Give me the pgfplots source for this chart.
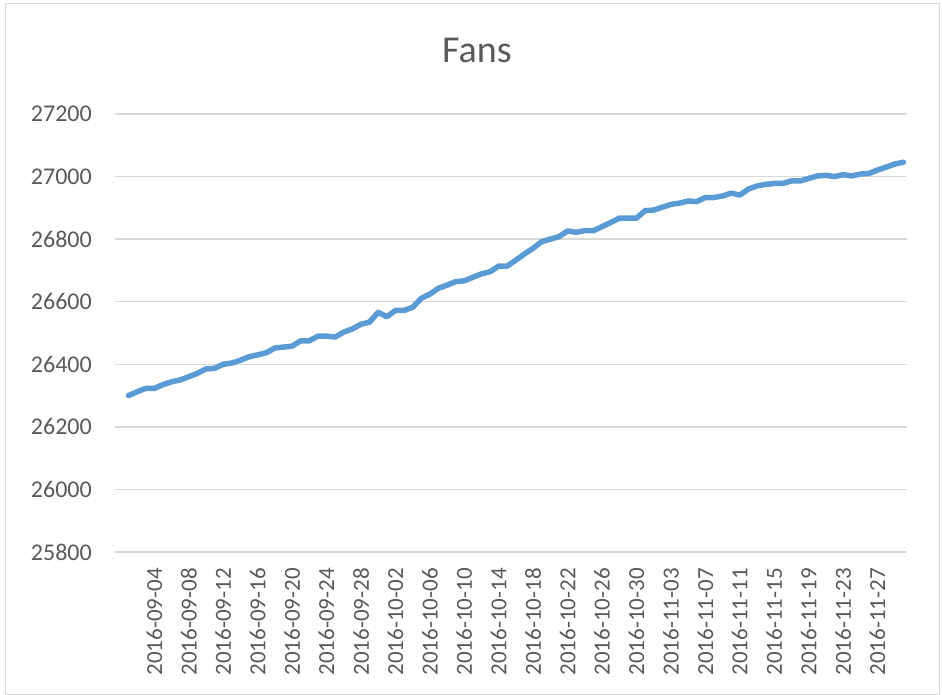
\documentclass[border=0pt]{standalone}
\usepackage{pgfplots}
\pgfplotsset{compat=1.18}
\usepackage{fontspec}
\setmainfont{Carlito}
\definecolor{linec}{HTML}{5B9BD5}
\definecolor{gridc}{HTML}{D9D9D9}
\definecolor{textc}{HTML}{595959}
\begin{document}
\begin{tikzpicture}[x=1pt,y=1pt]
\path[use as bounding box] (0,0) rectangle (942,695);
\draw[gridc, line width=1pt] (5.5,0.5) rectangle (939.5,691.5);
\begin{axis}[
  at={(115pt,143pt)}, anchor=south west,
  scale only axis, width=792pt, height=438pt,
  xmin=-1.57, xmax=90.42, ymin=25800, ymax=27200,
  ytick={25800,26000,...,27200},
  scaled y ticks=false,
  yticklabel={\pgfmathprintnumber[fixed,precision=0,1000 sep={}]{\tick}},
  xtick={3,7,...,87},
  xticklabels={2016-09-04,2016-09-08,2016-09-12,2016-09-16,2016-09-20,2016-09-24,2016-09-28,2016-10-02,2016-10-06,2016-10-10,2016-10-14,2016-10-18,2016-10-22,2016-10-26,2016-10-30,2016-11-03,2016-11-07,2016-11-11,2016-11-15,2016-11-19,2016-11-23,2016-11-27},
  axis line style={draw=none},
  major tick length=0pt, tick style={draw=none},
  ymajorgrids, grid style={gridc, line width=1.5pt},
  /pgf/number format/assume math mode=true,
  /pgf/number format/1000 sep={},
  yticklabel style={font=\fontsize{24}{24}\selectfont, text=textc, anchor=east, inner sep=0pt, xshift=-23pt},
  xticklabel style={font=\fontsize{23}{23}\selectfont, text=textc, rotate=90, anchor=east, inner sep=0pt},
  xticklabel shift=16pt,
  title=Fans,
  title style={font=\fontsize{38}{38}\selectfont, text=textc, at={(0.457,1)}, anchor=center, yshift=58pt},
  clip=false,
]
\addplot[color=linec, line width=5.5pt, line join=round, line cap=round] coordinates {
(0,26300) (1,26312) (2,26323) (3,26323) (4,26335) (5,26344) (6,26350) (7,26360) (8,26371) (9,26385)
(10,26387) (11,26400) (12,26404) (13,26413) (14,26424) (15,26430) (16,26437) (17,26452) (18,26455) (19,26458)
(20,26475) (21,26475) (22,26490) (23,26490) (24,26487) (25,26503) (26,26513) (27,26528) (28,26535) (29,26566)
(30,26552) (31,26572) (32,26572) (33,26582) (34,26611) (35,26624) (36,26643) (37,26653) (38,26664) (39,26667)
(40,26678) (41,26689) (42,26696) (43,26714) (44,26714) (45,26733) (46,26753) (47,26771) (48,26792) (49,26800)
(50,26808) (51,26826) (52,26822) (53,26827) (54,26827) (55,26840) (56,26853) (57,26867) (58,26867) (59,26867)
(60,26891) (61,26893) (62,26902) (63,26911) (64,26915) (65,26922) (66,26920) (67,26933) (68,26933) (69,26938)
(70,26947) (71,26941) (72,26960) (73,26970) (74,26975) (75,26978) (76,26978) (77,26986) (78,26986) (79,26994)
(80,27002) (81,27004) (82,27000) (83,27006) (84,27002) (85,27008) (86,27010) (87,27021) (88,27030) (89,27040)
(90,27046)
};
\end{axis}
\end{tikzpicture}
\end{document}
